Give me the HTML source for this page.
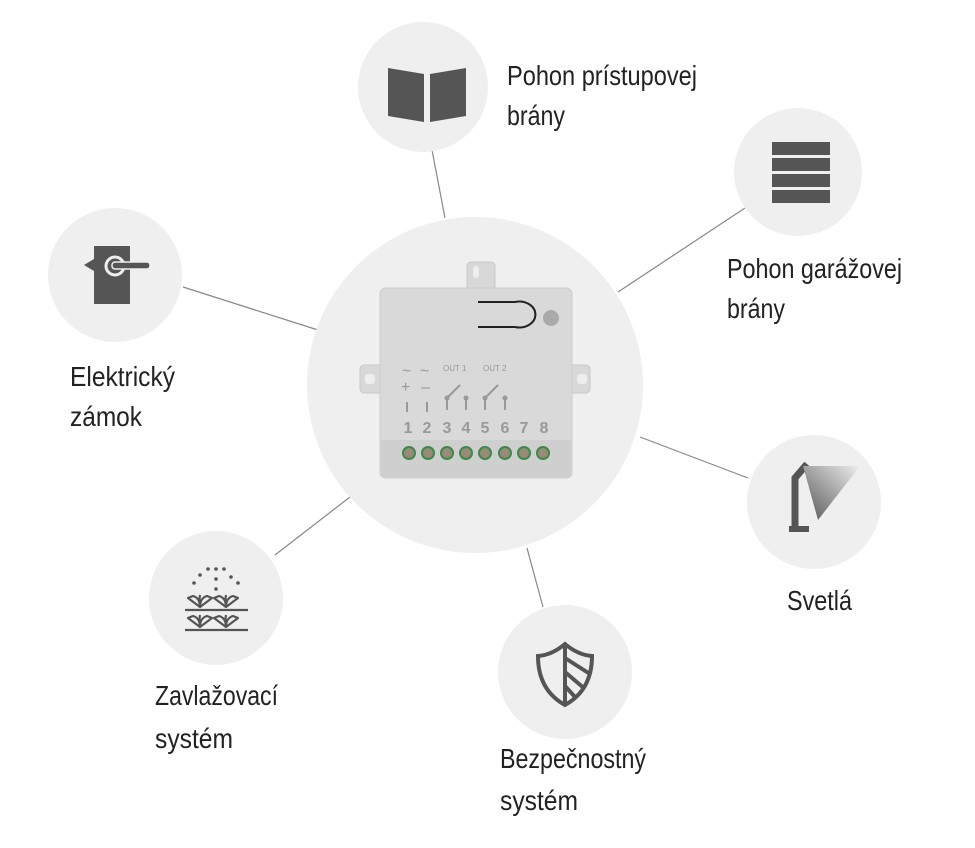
<!DOCTYPE html>
<html><head><meta charset="utf-8"><style>
html,body{margin:0;padding:0;background:#fff;}
svg{display:block;}
text{font-family:"Liberation Sans Narrow","Liberation Sans",sans-serif;font-size:28px;fill:#222;}
.n{font-family:"Liberation Sans",sans-serif;font-size:16px;font-weight:bold;fill:#999;text-anchor:middle;}
</style></head><body>
<svg width="975" height="848" viewBox="0 0 975 848" xmlns="http://www.w3.org/2000/svg">
<defs>
<linearGradient id="lg" x1="1" y1="0" x2="0" y2="1">
<stop offset="0" stop-color="#eee"/><stop offset="1" stop-color="#555"/></linearGradient>
</defs>
<g stroke="#888" stroke-width="1.2">
<line x1="432" y1="150" x2="445" y2="218"/>
<line x1="745" y1="208" x2="618" y2="292"/>
<line x1="183" y1="287" x2="318" y2="330"/>
<line x1="640" y1="437" x2="748" y2="478"/>
<line x1="275" y1="555" x2="350" y2="497"/>
<line x1="527" y1="548" x2="543" y2="607"/>
</g>
<g fill="#efefef">
<circle cx="475" cy="385" r="168"/>
<circle cx="423" cy="87" r="65"/>
<circle cx="798" cy="172" r="64"/>
<circle cx="115" cy="275" r="67"/>
<circle cx="814" cy="502" r="67"/>
<circle cx="216" cy="598" r="67"/>
<circle cx="565" cy="672" r="67"/>
</g>
<!-- book -->
<path d="M388 68 L424 74 L424 122 L388 116Z M430 74 L466 68 L466 116 L430 122Z" fill="#555"/>
<!-- garage -->
<g fill="#555"><rect x="772" y="142" width="58" height="13"/><rect x="772" y="158" width="58" height="13"/><rect x="772" y="174" width="58" height="13"/><rect x="772" y="190" width="58" height="13"/></g>
<!-- lock -->
<rect x="94" y="246" width="36" height="58" fill="#555"/>
<path d="M94 259 L84 265 L94 271Z" fill="#555"/>
<circle cx="115" cy="266" r="9" fill="none" stroke="#eee" stroke-width="3"/>
<rect x="112" y="262" width="38" height="7" rx="3" fill="#555" stroke="#eee" stroke-width="1.5"/>
<!-- light -->
<path d="M795 530 L795 478 L807 464" fill="none" stroke="#555" stroke-width="7"/>
<rect x="789" y="526" width="20" height="6" fill="#555"/>
<path d="M803 466 L860 466 L818 520Z" fill="url(#lg)"/>
<!-- irrigation -->
<g fill="#555">
<circle cx="208" cy="569" r="1.8"/><circle cx="216" cy="569" r="1.8"/><circle cx="224" cy="569" r="1.8"/>
<circle cx="200" cy="575" r="1.8"/><circle cx="231" cy="577" r="1.8"/><circle cx="216" cy="579" r="1.8"/>
<circle cx="194" cy="583" r="1.8"/><circle cx="238" cy="583" r="1.8"/><circle cx="216" cy="589" r="1.8"/>
</g>
<g fill="none" stroke="#555" stroke-width="2.2" stroke-linejoin="round">
<path d="M185 610 L248 610 M185 630 L248 630"/>
<g id="pl"><path d="M200 607 L188 598 L193 596 Q200 598 200 607 Q200 598 207 596 L212 598 Z"/></g>
<use href="#pl" x="26"/><use href="#pl" y="20"/><use href="#pl" x="26" y="20"/>
<path d="M200 607 Q199 600 200 595 M226 607 Q225 600 226 595 M200 627 Q199 620 200 615 M226 627 Q225 620 226 615"/>
</g>
<!-- shield -->
<path d="M565 644 Q552 655 538 656 Q538 690 565 705 Q592 690 592 656 Q578 655 565 644Z" fill="none" stroke="#555" stroke-width="4"/>
<line x1="565" y1="645" x2="565" y2="704" stroke="#555" stroke-width="4"/>
<g stroke="#555" stroke-width="4"><line x1="565" y1="658" x2="590" y2="674"/><line x1="565" y1="672" x2="585" y2="689"/><line x1="565" y1="686" x2="575" y2="697"/></g>
<!-- device -->
<rect x="467" y="262" width="28" height="30" rx="4" fill="#d8d8d8" stroke="#c8c8c8"/>
<rect x="360" y="365" width="25" height="28" rx="4" fill="#d8d8d8" stroke="#c8c8c8"/>
<rect x="565" y="365" width="25" height="28" rx="4" fill="#d8d8d8" stroke="#c8c8c8"/>
<rect x="473" y="266" width="6" height="12" rx="3" fill="#eee"/>
<rect x="365" y="374" width="10" height="10" rx="3" fill="#eee"/>
<rect x="577" y="374" width="10" height="10" rx="3" fill="#eee"/>
<rect x="380" y="288" width="192" height="190" rx="6" fill="#d9d9d9" stroke="#ccc"/>
<rect x="380" y="440" width="192" height="38" rx="4" fill="#cfcfcf"/>
<path d="M478 302 L515 302 A16 13 0 1 1 515 327 L478 327" fill="none" stroke="#222" stroke-width="2"/>
<circle cx="551" cy="318" r="8" fill="#aaa"/>
<text x="402" y="376" style="font-size:16px;fill:#999;font-family:'Liberation Sans'">~</text><text x="420" y="376" style="font-size:16px;fill:#999;font-family:'Liberation Sans'">~</text>
<text x="443" y="371" style="font-size:8px;fill:#999;font-family:'Liberation Sans'">OUT 1</text><text x="483" y="371" style="font-size:8px;fill:#999;font-family:'Liberation Sans'">OUT 2</text>
<text x="401" y="392" style="font-size:16px;fill:#999;font-family:'Liberation Sans'">+</text><text x="421" y="392" style="font-size:16px;fill:#999;font-family:'Liberation Sans'">–</text>
<text class="n" x="408" y="433">1</text><text class="n" x="427" y="433">2</text><text class="n" x="447" y="433">3</text><text class="n" x="466" y="433">4</text><text class="n" x="485" y="433">5</text><text class="n" x="505" y="433">6</text><text class="n" x="524" y="433">7</text><text class="n" x="544" y="433">8</text>
<g stroke="#999" stroke-width="2"><line x1="407" y1="402" x2="407" y2="412"/><line x1="427" y1="402" x2="427" y2="412"/>
<line x1="447" y1="398" x2="447" y2="410"/><line x1="466" y1="398" x2="466" y2="410"/><line x1="485" y1="398" x2="485" y2="410"/><line x1="505" y1="398" x2="505" y2="410"/>
<line x1="447" y1="398" x2="460" y2="385"/><line x1="485" y1="398" x2="498" y2="385"/></g>
<g fill="#999"><circle cx="447" cy="398" r="2.5"/><circle cx="466" cy="398" r="2.5"/><circle cx="485" cy="398" r="2.5"/><circle cx="505" cy="398" r="2.5"/></g>
<g fill="#9a8a78" stroke="#3a8a4a" stroke-width="2">
<circle cx="409" cy="453" r="6"/><circle cx="428" cy="453" r="6"/><circle cx="447" cy="453" r="6"/><circle cx="466" cy="453" r="6"/><circle cx="485" cy="453" r="6"/><circle cx="505" cy="453" r="6"/><circle cx="524" cy="453" r="6"/><circle cx="543" cy="453" r="6"/>
</g>
<!-- labels -->
<text x="507" y="85" textLength="190" lengthAdjust="spacingAndGlyphs">Pohon prístupovej</text>
<text x="507" y="125" textLength="58" lengthAdjust="spacingAndGlyphs">brány</text>
<text x="727" y="278" textLength="175" lengthAdjust="spacingAndGlyphs">Pohon garážovej</text>
<text x="727" y="318" textLength="58" lengthAdjust="spacingAndGlyphs">brány</text>
<text x="70" y="386" textLength="105" lengthAdjust="spacingAndGlyphs">Elektrický</text>
<text x="70" y="426" textLength="72" lengthAdjust="spacingAndGlyphs">zámok</text>
<text x="787" y="610" textLength="65" lengthAdjust="spacingAndGlyphs">Svetlá</text>
<text x="155" y="705" textLength="123" lengthAdjust="spacingAndGlyphs">Zavlažovací</text>
<text x="155" y="748" textLength="78" lengthAdjust="spacingAndGlyphs">systém</text>
<text x="500" y="768" textLength="146" lengthAdjust="spacingAndGlyphs">Bezpečnostný</text>
<text x="500" y="810" textLength="78" lengthAdjust="spacingAndGlyphs">systém</text>
</svg>
</body></html>
